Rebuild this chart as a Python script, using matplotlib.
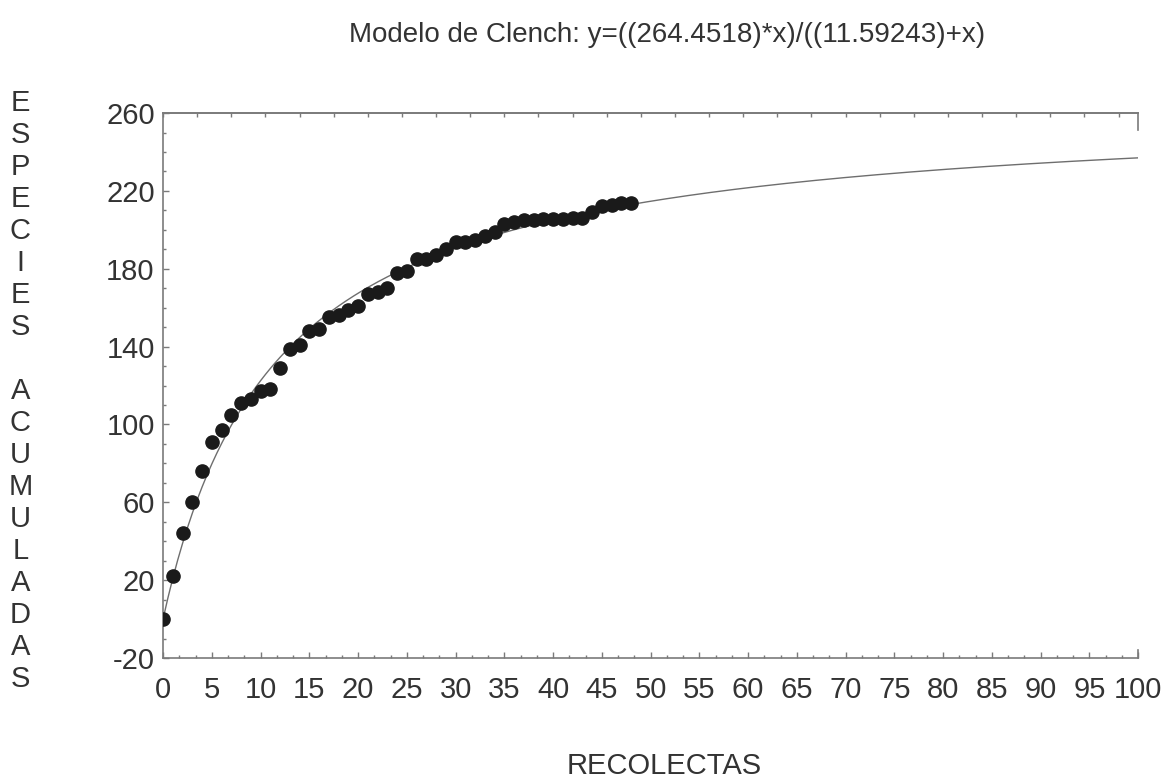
import numpy as np
import matplotlib
matplotlib.use("Agg")
import matplotlib.pyplot as plt
from matplotlib import font_manager
from matplotlib.ticker import MultipleLocator

# Pick a narrow sans face if one is installed.
installed = {f.name for f in font_manager.fontManager.ttflist}
narrow = "Liberation Sans Narrow" if "Liberation Sans Narrow" in installed else "Liberation Sans"
plt.rcParams["font.family"] = [narrow, "DejaVu Sans"]
plt.rcParams["axes.unicode_minus"] = False

# Observed accumulated species per collection.
recolectas = list(range(0, 49))
especies = [0, 22, 44, 60, 76, 91, 97, 105, 111, 113, 117, 118, 129, 139, 141,
            148, 149, 155, 156, 159, 161, 167, 168, 170, 178, 179, 185, 185,
            187, 190, 194, 194, 195, 197, 199, 203, 204, 205, 205, 205.5,
            205.5, 205.5, 206, 206, 209, 212, 213, 214, 214]

# Clench model parameters (from the title).
a_par = 264.4518
b_par = 11.59243

xfit = np.linspace(0, 100, 400)
yfit = (a_par * xfit) / (b_par + xfit)

fig = plt.figure(figsize=(11.68, 7.78), dpi=100)
ax = fig.add_axes([0.1396, 0.1542, 0.8348, 0.7005])

spine_col = "#7a7a7a"
text_col = "#333333"

ax.plot(xfit, yfit, color="#6e6e6e", lw=1.0, zorder=2)
ax.plot(recolectas, especies, "o", color="#1a1a1a", ms=9.5, mec="#1a1a1a", zorder=3)

ax.set_xlim(0, 100)
ax.set_ylim(-20, 260)
ax.set_xticks(np.arange(0, 101, 5))
ax.set_yticks(np.arange(-20, 261, 40))
ax.xaxis.set_minor_locator(MultipleLocator(5 / 3))
ax.yaxis.set_minor_locator(MultipleLocator(10))

ax.tick_params(axis="both", which="both", direction="in", color=spine_col,
               labelcolor=text_col, labelsize=21, width=1.0)
ax.tick_params(axis="both", which="major", length=4)
ax.tick_params(axis="both", which="minor", length=2.5)
ax.tick_params(axis="x", which="major", pad=13)
ax.tick_params(axis="y", which="major", pad=6)

for s in ["left", "bottom", "top"]:
    ax.spines[s].set_color(spine_col)
    ax.spines[s].set_linewidth(1.2)
ax.spines["right"].set_visible(False)

# small stubs at the right corners
ax.plot([1, 1], [1, 0.969], transform=ax.transAxes, color=spine_col, lw=1.2, clip_on=False)
ax.plot([1, 1], [0, 0.015], transform=ax.transAxes, color=spine_col, lw=1.2, clip_on=False)

# top ticks with their own spacing
top = ax.secondary_xaxis("top")
top.set_xticks(np.arange(0, 100, 3.5))
top.set_xticklabels([])
top.tick_params(direction="in", length=3, color=spine_col, width=1.0)
top.spines["top"].set_color(spine_col)
top.spines["top"].set_linewidth(1.2)

fig.text(0.571, 0.955, f"Modelo de Clench: y=(({a_par})*x)/(({b_par})+x)",
         ha="center", va="center", fontsize=20, color=text_col)
fig.text(0.569, 0.019, "RECOLECTAS", ha="center", va="center_baseline",
         fontsize=21, color=text_col)

ylab = "ESPECIES ACUMULADAS"
fig.text(0.0175, 0.885, "\n".join(ylab),
         ha="center", va="top", fontsize=21, color=text_col, linespacing=1.18)

fig.savefig("out.png", dpi=100)
